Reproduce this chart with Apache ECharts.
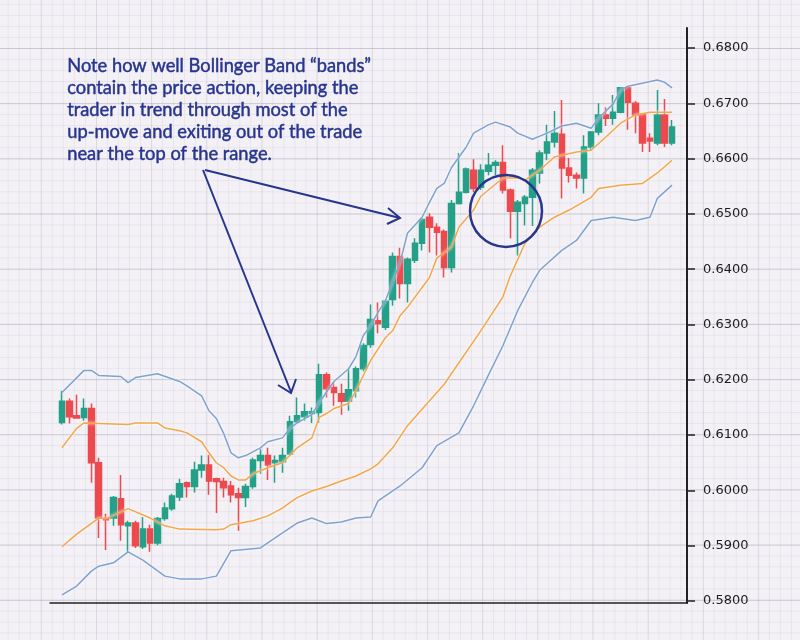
<!DOCTYPE html>
<html><head><meta charset="utf-8">
<script src="https://cdn.jsdelivr.net/npm/echarts@6/dist/echarts.min.js"></script>
<style>
html,body{margin:0;padding:0;width:800px;height:640px;overflow:hidden;}
body{
  background-color:#f3f1f5;
  background-image:
    linear-gradient(to bottom, rgba(160,155,170,0.40) 1px, transparent 1px),
    linear-gradient(to right, rgba(175,170,185,0.22) 1px, transparent 1px),
    linear-gradient(to bottom, rgba(200,195,210,0.28) 1px, transparent 1px),
    linear-gradient(to right, rgba(200,195,210,0.28) 1px, transparent 1px);
  background-size: 100% 55.2px, 55.2px 100%, 100% 11.04px, 11.04px 100%;
  background-position: 0 48px, 40.8px 0, 0 3.84px, 7.68px 0;
}
#chart{width:800px;height:640px;}
</style></head><body><div id="chart"></div>
<script>
// ---- data ----
const opens = [.6123,.6161,.6135,.6132,.6148,.6050,.5949,.5950,.5985,.5936,
.5941,.5898,.5930,.5905,.5949,.5967,.5988,.6014,.6007,.6037,
.6046,.6021,.6016,.6008,.5994,.5987,.6007,.6054,.6063,.6050,
.6052,.6066,.6124,.6133,.6139,.6141,.6209,.6186,.6175,.6161,
.6180,.6220,.6264,.6307,.6295,.6345,.6423,.6374,.6416,.6447,
.6494,.6476,.6468,.6403,.6519,.6539,.6579,.6548,.6577,.6588,
.6593,.6543,.6505,.6519,.6530,.6574,.6610,.6630,.6644,.6583,
.6570,.6565,.6621,.6648,.6679,.6673,.6684,.6728,.6700,.6680,
.6637,.6628,.6679,.6628];
const closes = [.6161,.6133,.6131,.6148,.6050,.5950,.5947,.5987,.5938,.5941,
.5900,.5930,.5905,.5949,.5968,.5990,.6012,.6007,.6037,.6046,
.6017,.6016,.6005,.5992,.5987,.6007,.6055,.6063,.6046,.6054,
.6063,.6124,.6135,.6142,.6142,.6209,.6184,.6177,.6161,.6182,
.6220,.6262,.6309,.6302,.6342,.6423,.6374,.6418,.6447,.6490,
.6476,.6467,.6403,.6519,.6539,.6581,.6546,.6579,.6588,.6593,
.6543,.6505,.6521,.6530,.6579,.6610,.6630,.6646,.6583,.6570,
.6565,.6621,.6648,.6679,.6673,.6684,.6728,.6702,.6679,.6628,
.6632,.6679,.6628,.6657];
const lows = [.6119,.6121,.6130,.6126,.6014,.5914,.5892,.5936,.5909,.5887,
.5896,.5894,.5889,.5901,.5945,.5963,.5981,.5987,.5996,.6023,
.5992,.5959,.5987,.5978,.5927,.5970,.6003,.6030,.6019,.6014,
.6032,.6063,.6121,.6126,.6122,.6122,.6168,.6153,.6137,.6144,
.6168,.6215,.6258,.6284,.6290,.6334,.6347,.6340,.6411,.6434,
.6430,.6425,.6385,.6394,.6517,.6537,.6539,.6543,.6570,.6570,
.6537,.6456,.6425,.6479,.6478,.6555,.6597,.6620,.6528,.6557,
.6546,.6537,.6615,.6642,.6659,.6661,.6682,.6652,.6646,.6612,
.6612,.6624,.6621,.6624];
const highs = [.6180,.6166,.6173,.6166,.6157,.6059,.5958,.5990,.6028,.5945,
.5945,.5952,.5938,.5952,.5978,.5994,.6021,.6016,.6052,.6063,
.6064,.6023,.6023,.6017,.6005,.6012,.6059,.6075,.6077,.6063,
.6077,.6135,.6168,.6157,.6150,.6229,.6213,.6195,.6193,.6220,
.6224,.6266,.6336,.6340,.6345,.6430,.6439,.6421,.6456,.6494,
.6501,.6483,.6472,.6525,.6610,.6584,.6599,.6590,.6610,.6597,
.6624,.6546,.6525,.6534,.6583,.6615,.6661,.6686,.6706,.6601,
.6575,.6642,.6650,.6700,.6693,.6715,.6729,.6729,.6704,.6682,
.6646,.6724,.6708,.6670];

// band vertices: [candle index, value]
const upperBand = [[0,.6177],[3,.6217],[4,.6217],[5,.6208],[8,.6206],[9,.6195],[10,.6204],[13,.6211],[16,.6197],[17,.6189],[19,.6171],[20,.6144],[21,.6130],[22,.6103],[23,.6068],[24,.6059],[25,.6063],[27,.6077],[28,.6088],[30,.6095],[31,.6112],[32,.6122],[34,.6137],[35,.6159],[37,.6197],[39,.6220],[40,.6242],[41,.6280],[42,.6298],[43,.6322],[44,.6343],[46,.6412],[47,.6465],[49,.6494],[50,.6521],[51,.6546],[52,.6555],[53,.6584],[55,.6621],[56,.6646],[58,.6661],[59,.6666],[61,.6657],[62,.6646],[64,.6635],[66,.6646],[68,.6659],[70,.6664],[72,.6655],[73,.6673],[75,.6699],[76,.6724],[77,.6731],[81,.6742],[82,.6738],[83,.6728]];
const innerUpper = [[0,.6077],[1,.6095],[2,.6112],[3,.6122],[9,.6119],[10,.6122],[13,.6122],[14,.6113],[16,.6108],[17,.6104],[19,.6088],[20,.6068],[21,.6050],[22,.6041],[23,.6026],[24,.6019],[25,.6019],[26,.6030],[28,.6041],[30,.6050],[31,.6063],[32,.6077],[34,.6095],[35,.6132],[36,.6139],[37,.6148],[39,.6157],[40,.6180],[41,.6208],[42,.6235],[44,.6276],[45,.6289],[46,.6316],[47,.6331],[50,.6385],[51,.6420],[53,.6440],[54,.6476],[56,.6507],[57,.6532],[59,.6554],[60,.6565],[62,.6565],[63,.6561],[65,.6579],[67,.6603],[70,.6612],[72,.6615],[74,.6639],[76,.6664],[78,.6679],[80,.6684],[83,.6684]];
const innerLower = [[0,.5898],[2,.5921],[5,.5950],[6,.5949],[9,.5967],[12,.5950],[14,.5936],[16,.5930],[21,.5929],[22,.5930],[23,.5938],[26,.5945],[28,.5954],[30,.5968],[31,.5978],[32,.5987],[34,.5999],[36,.6007],[38,.6017],[40,.6026],[42,.6039],[43,.6048],[45,.6077],[47,.6117],[52,.6192],[57,.6289],[60,.6350],[61,.6388],[63,.6447],[65,.6476],[67,.6494],[69,.6507],[72,.6530],[73,.6546],[76,.6552],[79,.6555],[81,.6574],[83,.6597]];
const lowerBand = [[0,.5811],[2,.5827],[4,.5854],[5,.5863],[7,.5869],[9,.5889],[11,.5874],[14,.5845],[16,.5840],[19,.5840],[21,.5845],[23,.5891],[27,.5896],[28,.5905],[30,.5923],[32,.5941],[34,.5950],[36,.5940],[38,.5943],[40,.5950],[42,.5952],[43,.5981],[46,.6008],[49,.6041],[51,.6081],[54,.6104],[56,.6153],[58,.6208],[60,.6262],[62,.6325],[64,.6376],[65,.6398],[68,.6434],[70,.6452],[72,.6488],[75,.6494],[78,.6488],[80,.6494],[81,.6528],[83,.6552]];

const noteLines = ['Note how well Bollinger Band \u201cbands\u201d','contain the price action, keeping the','trader in trend through most of the','up-move and exiting out of the trade','near the top of the range.'];

const categories = opens.map((_, i) => String(i + 1));
const GREEN = '#25a088', RED = '#ec4a4e', BLUE = '#7ea2d1', ORANGE = '#f6a64a', NAVY = '#27358e';

const chart = echarts.init(document.getElementById('chart'), null, {renderer:'canvas'});
const lineSeries = (data, color) => ({
  type:'line', xAxisIndex:0, yAxisIndex:0, data, showSymbol:false, symbol:'none',
  lineStyle:{color, width:1.5, shadowColor:'rgba(255,255,255,0.95)', shadowBlur:3},
  z:3, silent:true
});
chart.setOption({
  animation:false,
  backgroundColor:'transparent',
  grid:[
    {left:58.3, right:124.3, top:48, bottom:39},
    {left:50, right:113, top:48, bottom:39},
    {left:50, right:113, top:28, bottom:37}
  ],
  xAxis:[
    {gridIndex:0, type:'category', data:categories, boundaryGap:true, show:false},
    {gridIndex:1, type:'value', min:0, max:1, show:false},
    {gridIndex:2, type:'value', min:0, max:1, axisLine:{show:true, onZero:false, lineStyle:{color:'#222', width:1.5}}, axisTick:{show:false}, axisLabel:{show:false}, splitLine:{show:false}}
  ],
  yAxis:[
    {gridIndex:0, type:'value', min:0.58, max:0.68, show:false},
    {gridIndex:1, type:'value', position:'right', min:0.58, max:0.68, interval:0.01,
      axisLine:{show:false, onZero:false}, axisTick:{show:true, length:8, lineStyle:{color:'#222', width:1.5}},
      axisLabel:{margin:16, color:'#1c1c1c', fontFamily:'DejaVu Sans', fontSize:13, formatter:v => v.toFixed(4)},
      splitLine:{show:false}},
    {gridIndex:2, type:'value', position:'right', min:0, max:1,
      axisLine:{show:true, onZero:false, lineStyle:{color:'#222', width:2}},
      axisTick:{show:false}, axisLabel:{show:false}, splitLine:{show:false}}
  ],
  series:[
    {type:'candlestick', xAxisIndex:0, yAxisIndex:0, barWidth:6,
      data: opens.map((o,i) => [o, closes[i], lows[i], highs[i]]),
      itemStyle:{color:GREEN, color0:RED, borderColor:GREEN, borderColor0:RED, borderWidth:1.5}, z:2},
    lineSeries(upperBand, BLUE),
    lineSeries(innerUpper, ORANGE),
    lineSeries(innerLower, ORANGE),
    lineSeries(lowerBand, BLUE)
  ],
  graphic:[
    {type:'text', left:67, top:55, z:10, style:{text:noteLines.join('\n'), fill:NAVY, stroke:NAVY, lineWidth:0.45, font:'18.3px Lato', lineHeight:22}},
    {type:'polyline', z:10, shape:{points:[[203,170],[291,392]]}, style:{stroke:NAVY, lineWidth:2, fill:null}},
    {type:'polyline', z:10, shape:{points:[[278,385],[291,393],[296,379]]}, style:{stroke:NAVY, lineWidth:2, fill:null}},
    {type:'polyline', z:10, shape:{points:[[205,170],[400,218]]}, style:{stroke:NAVY, lineWidth:2, fill:null}},
    {type:'polyline', z:10, shape:{points:[[388,208],[400,218],[387,224]]}, style:{stroke:NAVY, lineWidth:2, fill:null}},
    {type:'circle', z:10, shape:{cx:506, cy:211, r:36}, style:{stroke:NAVY, lineWidth:2.5, fill:null}}
  ]
});
</script>
</body></html>
